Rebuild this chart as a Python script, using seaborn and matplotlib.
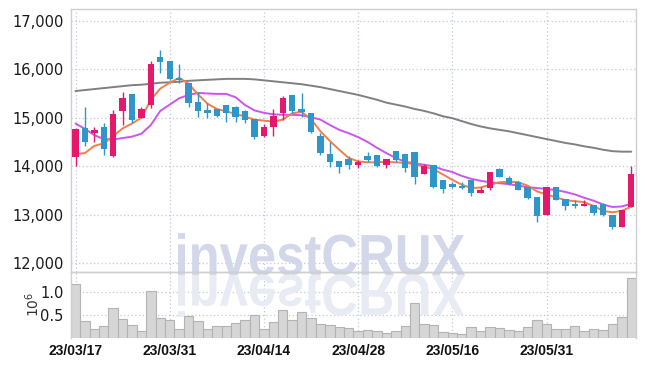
import numpy as np
import pandas as pd
import matplotlib
matplotlib.use("Agg")
import matplotlib.pyplot as plt
import seaborn as sns
from matplotlib.textpath import TextPath
from matplotlib.patches import PathPatch
from matplotlib.font_manager import FontProperties
from matplotlib.transforms import Affine2D, IdentityTransform

# ---------------- data ----------------
dates = ["23/03/17", "23/03/20", "23/03/21", "23/03/22", "23/03/23", "23/03/24",
         "23/03/27", "23/03/28", "23/03/29", "23/03/30", "23/03/31",
         "23/04/03", "23/04/04", "23/04/05", "23/04/06", "23/04/07",
         "23/04/10", "23/04/11", "23/04/12", "23/04/13", "23/04/14",
         "23/04/17", "23/04/18", "23/04/19", "23/04/20", "23/04/21",
         "23/04/24", "23/04/25", "23/04/26", "23/04/27", "23/04/28",
         "23/05/02", "23/05/03", "23/05/04",
         "23/05/08", "23/05/09", "23/05/10", "23/05/11", "23/05/12",
         "23/05/15", "23/05/16", "23/05/17", "23/05/18", "23/05/19",
         "23/05/22", "23/05/23", "23/05/24", "23/05/25", "23/05/26",
         "23/05/30", "23/05/31", "23/06/01", "23/06/02", "23/06/05",
         "23/06/07", "23/06/08", "23/06/09", "23/06/12", "23/06/13", "23/06/14"]

opens = [14190, 14790, 14690, 14810, 14210, 15140, 15490, 15000, 15260, 16250,
         16170, 15820, 15720, 15320, 15160, 15180, 15260, 15220, 15140, 14970,
         14620, 14810, 15100, 15470, 15180, 15100, 14620, 14250, 14110, 14150,
         14030, 14210, 14230, 14030, 14310, 14250, 14290, 13840, 14030, 13720,
         13640, 13570, 13720, 13450, 13550, 13940, 13760, 13680, 13570, 13370,
         13000, 13570, 13330, 13220, 13180, 13200, 13220, 13000, 12750, 13160]
highs = [14780, 15220, 14810, 14890, 15160, 15530, 15490, 15220, 16170, 16400,
         16170, 16110, 15720, 15530, 15300, 15180, 15260, 15240, 15160, 14970,
         14870, 15180, 15450, 15470, 15510, 15100, 14690, 14500, 14110, 14210,
         14130, 14290, 14230, 14150, 14310, 14250, 14290, 14050, 14030, 13720,
         13680, 13680, 13720, 13570, 13880, 13970, 13800, 13700, 13570, 13370,
         13570, 13570, 13330, 13310, 13310, 13200, 13250, 13000, 13100, 14010]
lows = [14010, 14420, 14500, 14230, 14200, 14850, 14890, 14990, 15200, 15920,
        15780, 15720, 15220, 15020, 15000, 15020, 14910, 14910, 14890, 14560,
        14600, 14620, 14950, 15100, 15020, 14690, 14230, 13990, 13860, 13940,
        13960, 14090, 13990, 13960, 14090, 13880, 13630, 13840, 13550, 13450,
        13550, 13530, 13390, 13450, 13510, 13780, 13620, 13500, 13330, 12850,
        12990, 13300, 13100, 13140, 13180, 13000, 12980, 12710, 12740, 13160]
closes = [14770, 14500, 14750, 14360, 15080, 15410, 14950, 15180, 16110, 16150,
          15800, 15780, 15300, 15140, 15100, 15040, 15100, 15020, 14950, 14600,
          14810, 15040, 15410, 15140, 15120, 14700, 14270, 14090, 13990, 14030,
          14090, 14130, 14010, 14150, 14130, 13960, 13780, 14010, 13570, 13530,
          13570, 13550, 13450, 13510, 13880, 13780, 13640, 13510, 13350, 12980,
          13570, 13310, 13180, 13180, 13220, 13040, 13000, 12750, 13100, 13840]

ma5 = [14250, 14270, 14420, 14470, 14620, 14780, 14880, 15000, 15370, 15600,
       15720, 15820, 15700, 15480, 15290, 15180, 15130, 15080, 15020, 14960,
       14940, 14920, 14960, 15090, 15120, 14970, 14720, 14520, 14340, 14170,
       14100, 14080, 14080, 14090, 14080, 14070, 14040, 13990, 13940, 13830,
       13720, 13620, 13550, 13560, 13620, 13670, 13680, 13670, 13600, 13480,
       13420, 13360, 13300, 13280, 13260, 13180, 13080, 13050, 13080, 13170]
ma20 = [14880, 14770, 14640, 14560, 14550, 14580, 14610, 14670, 14850, 15140,
        15270, 15400, 15470, 15510, 15500, 15490, 15490, 15420, 15260, 15150,
        15100, 15070, 15060, 15060, 15050, 15010, 14960, 14850, 14750, 14680,
        14600, 14500, 14380, 14270, 14170, 14090, 14060, 14030, 14000, 13930,
        13880, 13800, 13740, 13700, 13670, 13650, 13630, 13600, 13570, 13550,
        13530, 13510, 13470, 13420, 13350, 13290, 13210, 13160, 13170, 13230]
ma60 = [15550, 15570, 15590, 15610, 15630, 15650, 15670, 15680, 15700, 15720,
        15730, 15740, 15760, 15770, 15780, 15790, 15800, 15800, 15800, 15790,
        15770, 15750, 15730, 15710, 15690, 15660, 15630, 15590, 15550, 15510,
        15470, 15420, 15370, 15310, 15270, 15230, 15180, 15140, 15090, 15030,
        14990, 14930, 14870, 14820, 14780, 14750, 14720, 14680, 14640, 14600,
        14560, 14520, 14480, 14450, 14410, 14380, 14340, 14310, 14300, 14300]

volume_m = [1.17, 0.36, 0.19, 0.25, 0.64, 0.41, 0.27, 0.14, 1.02, 0.43,
            0.39, 0.19, 0.47, 0.36, 0.19, 0.25, 0.25, 0.31, 0.38, 0.50,
            0.19, 0.33, 0.60, 0.39, 0.55, 0.43, 0.29, 0.27, 0.22, 0.20,
            0.14, 0.16, 0.14, 0.09, 0.14, 0.25, 0.75, 0.29, 0.27, 0.11,
            0.09, 0.07, 0.22, 0.14, 0.22, 0.20, 0.17, 0.14, 0.22, 0.39,
            0.29, 0.19, 0.19, 0.25, 0.14, 0.19, 0.17, 0.30, 0.44, 1.30]

price_ticks = [12000, 13000, 14000, 15000, 16000, 17000]
vol_ticks = [0.5, 1.0]
date_tick_idx = [0, 10, 20, 30, 40, 50]

# ---------------- style ----------------
sns.set_theme(style="white")
plt.rcParams['font.family'] = ['Liberation Sans Narrow', 'DejaVu Sans']
plt.rcParams['axes.unicode_minus'] = False

PINK = '#e5196c'
BLUE = '#2f96c9'
ORANGE = '#f07f4c'
MAGENTA = '#cc55ee'
GRAY = '#808080'
GRID = '#c3c9dc'
SPINE = '#cfcfcf'

W, H = 645, 366
fig = plt.figure(figsize=(W / 100, H / 100), dpi=100, facecolor='white')
ax = fig.add_axes([70.8 / W, 1 - 272 / H, (636 - 70.8) / W, (272 - 9) / H])
axv = fig.add_axes([70.8 / W, 1 - 337.5 / H, (636 - 70.8) / W, (337.5 - 272) / H])

df = pd.DataFrame({"idx": np.arange(len(dates)), "date": dates,
                   "open": opens, "high": highs, "low": lows, "close": closes,
                   "ma5": ma5, "ma20": ma20, "ma60": ma60, "vol": volume_m})
x = df["idx"].to_numpy()
o = df["open"].to_numpy(float)
c = df["close"].to_numpy(float)
up = c > o
cols = np.where(up, PINK, BLUE)

# moving averages
sns.lineplot(data=df, x="idx", y="ma60", ax=ax, color=GRAY, lw=1.4, zorder=2)
sns.lineplot(data=df, x="idx", y="ma20", ax=ax, color=MAGENTA, lw=1.4, zorder=2.1)
sns.lineplot(data=df, x="idx", y="ma5", ax=ax, color=ORANGE, lw=1.4, zorder=2.2)

# candles
ax.vlines(x, df["low"], df["high"], colors=cols, lw=1.0, zorder=3)
bottoms = np.minimum(o, c)
heights = np.maximum(np.abs(c - o), 35)
ax.bar(x, heights, bottom=bottoms, width=0.68, color=cols, linewidth=0, zorder=4)

ax.set_xlim(-0.5, len(dates) - 0.5)
ax.set_ylim(11820, 17240)
ax.set_yticks(price_ticks)
ax.set_yticklabels([f"{v:,}" for v in price_ticks], fontsize=10.5, color='#1a1a1a')
ax.set_xticks(date_tick_idx)
ax.set_xticklabels([])
ax.set_xlabel("")
ax.set_ylabel("")
ax.tick_params(length=0, pad=5)
ax.grid(True, color=GRID, linestyle=(0, (1, 2)), lw=0.9)
ax.set_axisbelow(True)
for s in ax.spines.values():
    s.set_color(SPINE)
    s.set_linewidth(1.0)

# volume
sns.barplot(data=df, x="idx", y="vol", ax=axv, color='#d6d6d6', width=1.0,
            edgecolor='#b3b3b3', linewidth=0.8, saturation=1, zorder=2)
axv.set_xlim(-0.5, len(dates) - 0.5)
axv.set_ylim(0, 1.436)
axv.set_yticks(vol_ticks)
axv.set_yticklabels([f"{v:.1f}" for v in vol_ticks], fontsize=10.5, color='#1a1a1a')
axv.set_xticks(date_tick_idx)
axv.set_xticklabels([dates[i] for i in date_tick_idx])
for lbl in axv.get_xticklabels():
    lbl.set_fontproperties(FontProperties(family=['Liberation Sans', 'DejaVu Sans'],
                                          weight='bold', size=10))
    lbl.set_color('#111111')
axv.set_xlabel("")
axv.set_ylabel("")
axv.tick_params(length=0, pad=5)
axv.grid(True, color=GRID, linestyle=(0, (1, 2)), lw=0.9)
axv.set_axisbelow(True)
axv.patch.set_alpha(0)
for s in axv.spines.values():
    s.set_color(SPINE)
    s.set_linewidth(1.0)
axv.spines['bottom'].set_visible(False)

fig.text(33 / W, 1 - 304 / H, r"$10^6$", rotation=90, ha='center', va='center',
         fontsize=10, color='#333333', family='DejaVu Sans')

# watermark "investCRUX" with reflection
tp = TextPath((0, 0), "investCRUX", size=100,
              prop=FontProperties(family=['Liberation Sans', 'DejaVu Sans'], weight='bold'))
bb = tp.get_extents()
x0, x1, ytop, ybase = 178, 465, 233, 275
sx = (x1 - x0) / bb.width
sy = (ybase - ytop) / bb.y1
tr = Affine2D().translate(-bb.x0, 0).scale(sx, sy).translate(x0, H - ybase)
trr = Affine2D().translate(-bb.x0, 0).scale(sx, -sy).translate(x0, H - ybase)
wm = PathPatch(tr.transform_path(tp), transform=IdentityTransform(),
               facecolor='#d2d7ea', edgecolor='none', zorder=1.5, clip_on=False)
ax.add_artist(wm)
wmr = PathPatch(trr.transform_path(tp), transform=IdentityTransform(),
                facecolor='#e8ebf4', edgecolor='none', zorder=1, clip_on=False)
axv.add_artist(wmr)

fig.savefig("out.png", dpi=100, facecolor='white')
